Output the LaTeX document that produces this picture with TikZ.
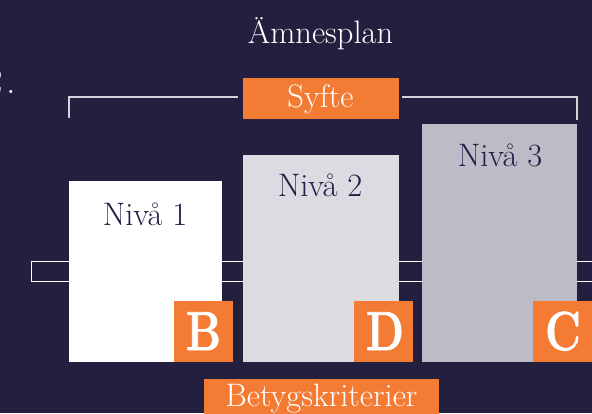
\documentclass[tikz,border=0pt]{standalone}
\usepackage{fontspec}
\setmainfont{Latin Modern Roman}
\newfontfamily\gradefont[FakeBold=1.5]{Latin Modern Roman}
\definecolor{bgnavy}{HTML}{23203F}
\definecolor{orng}{HTML}{F37B33}
\definecolor{lvltwo}{HTML}{DCDBE1}
\definecolor{lvlthree}{HTML}{BDBCC6}
\definecolor{txtnavy}{HTML}{221E48}
\definecolor{brk}{HTML}{D4D4DC}
\newcommand{\fs}[1]{\fontsize{#1}{#1}\selectfont}
\begin{document}
\begin{tikzpicture}[x=1pt,y=-1pt,
  box/.style={rectangle, inner sep=0pt, outer sep=0pt, draw=none, anchor=north west},
  lvltext/.style={text=txtnavy, font=\fs{32.5}, inner sep=0pt, anchor=base},
  wtext/.style={text=white, font=\fs{32.5}, inner sep=0pt, anchor=base},
  grade/.style={text=white, inner sep=0pt, anchor=base, font=\fs{55}\gradefont\bfseries}]
\useasboundingbox[fill=bgnavy] (0,0) rectangle (592,413);
% partially visible number at left edge
\node[text=white, font=\fs{38}, inner sep=0pt, anchor=base east] (num) at (16,93) {2\kern3pt.};
% title
\node[wtext] (title) at (320.5,43) {Ämnesplan};
% band behind bars
\coordinate (bandA) at (31,261);
\coordinate (bandB) at (600,281);
\draw[white, line width=1pt] (bandA) rectangle (bandB);
% bars
\node[box, fill=white, minimum width=153pt, minimum height=181pt] (bar1) at (69,181) {};
\node[box, fill=lvltwo, minimum width=156pt, minimum height=207pt] (bar2) at (243,155) {};
\node[box, fill=lvlthree, minimum width=155pt, minimum height=238pt] (bar3) at (422,124) {};
\node[lvltext] (n1) at (145,225) {Nivå 1};
\node[lvltext] (n2) at (320,196) {Nivå 2};
\node[lvltext] (n3) at (500,166.5) {Nivå 3};
% syfte box and bracket
\node[box, fill=orng, minimum width=156pt, minimum height=41pt] (syfte) at (243,78) {};
\node[wtext] (syftet) at (320.5,107) {Syfte};
\coordinate (bl1) at (69,118);
\coordinate (bl2) at (69,97);
\coordinate (bl3) at (238,97);
\coordinate (br1) at (402,97);
\coordinate (br2) at (577,97);
\coordinate (br3) at (577,120);
\draw[brk, line width=1.4pt] (bl1) -- (bl2) -- (bl3);
\draw[brk, line width=1.4pt] (br1) -- (br2) -- (br3);
% grade squares
\node[box, fill=orng, minimum width=59pt, minimum height=61pt] (sqB) at (174,301) {};
\node[box, fill=orng, minimum width=59pt, minimum height=61pt] (sqD) at (354,301) {};
\node[box, fill=orng, minimum width=62pt, minimum height=61pt] (sqC) at (533,301) {};
\node[grade] (gB) at (203.5,350) {\scalebox{0.8}[1]{B}};
\node[grade] (gD) at (385,350) {\scalebox{0.8}[1]{D}};
\node[grade] (gC) at (563,350) {\scalebox{0.8}[1]{C}};
% betygskriterier
\node[box, fill=orng, minimum width=235pt, minimum height=40pt] (bet) at (204,379) {};
\node[wtext] (bett) at (321.5,406) {Betygskriterier};
\end{tikzpicture}
\end{document}
